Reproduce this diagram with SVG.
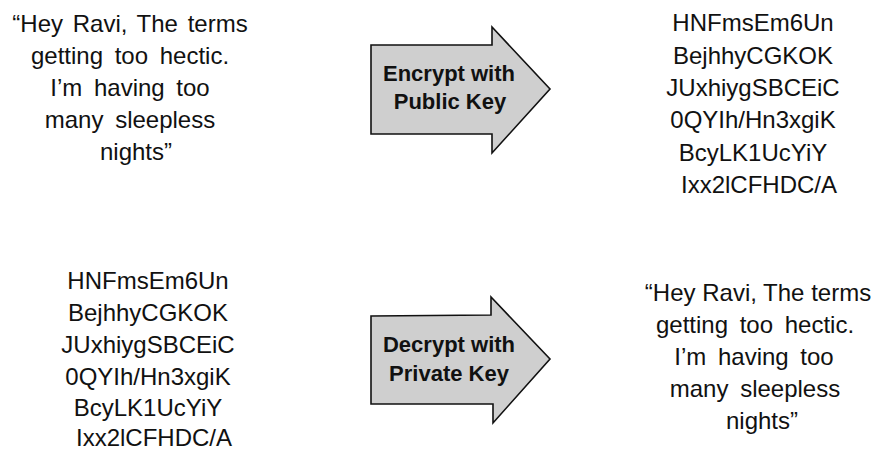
<svg xmlns="http://www.w3.org/2000/svg" width="876" height="452" viewBox="0 0 876 452">
<style>
.t{font-family:"Liberation Sans",Arial,sans-serif;font-size:24px;fill:#111;text-anchor:middle;word-spacing:5px}
.c{font-family:"Liberation Sans",Arial,sans-serif;font-size:24px;fill:#111;text-anchor:middle}
.a{fill:#cfcfcf;stroke:#111;stroke-width:1.6;stroke-linejoin:miter}
.l{font-family:"Liberation Sans",Arial,sans-serif;font-size:22px;font-weight:bold;fill:#111;text-anchor:middle}
</style>
<rect width="876" height="452" fill="#fff"/>
<g id="plain-top">
<text class="t" x="130" y="31.5" style="word-spacing:3px">“Hey Ravi, The terms</text>
<text class="t" x="130" y="63.5">getting too hectic.</text>
<text class="t" x="130" y="95.5">I’m having too</text>
<text class="t" x="130" y="127.5">many sleepless</text>
<text class="t" x="136" y="159.5">nights”</text>
</g>
<g id="cipher-top">
<text class="c" x="753" y="31">HNFmsEm6Un</text>
<text class="c" x="753" y="63.5">BejhhyCGKOK</text>
<text class="c" x="753" y="96">JUxhiygSBCEiC</text>
<text class="c" x="753" y="128">0QYIh/Hn3xgiK</text>
<text class="c" x="753" y="160.5">BcyLK1UcYiY</text>
<text class="c" x="759" y="193">Ixx2lCFHDC/A</text>
</g>
<g id="cipher-bottom">
<text class="c" x="148" y="288.5">HNFmsEm6Un</text>
<text class="c" x="148" y="320.5">BejhhyCGKOK</text>
<text class="c" x="148" y="352.5">JUxhiygSBCEiC</text>
<text class="c" x="148" y="384.5">0QYIh/Hn3xgiK</text>
<text class="c" x="148" y="416">BcyLK1UcYiY</text>
<text class="c" x="154" y="446">Ixx2lCFHDC/A</text>
</g>
<g id="plain-bottom">
<text class="t" x="758" y="301" style="word-spacing:0px">“Hey Ravi, The terms</text>
<text class="t" x="755" y="333">getting too hectic.</text>
<text class="t" x="754" y="365">I’m having too</text>
<text class="t" x="755" y="397">many sleepless</text>
<text class="t" x="762" y="429">nights”</text>
</g>
<g id="connectors">
<g id="encrypt">
<polygon class="a" points="371,45 492,45 492,27 550,89 492,153 492,134 371,134"/>
<text class="l" x="449" y="81">Encrypt with</text>
<text class="l" x="450" y="109">Public Key</text>
</g>
<g id="decrypt">
<polygon class="a" points="371,316 491,315 491,297 550,359 493,423 493,404 371,404"/>
<text class="l" x="449" y="352">Decrypt with</text>
<text class="l" x="449" y="381">Private Key</text>
</g>
</g>
</svg>
